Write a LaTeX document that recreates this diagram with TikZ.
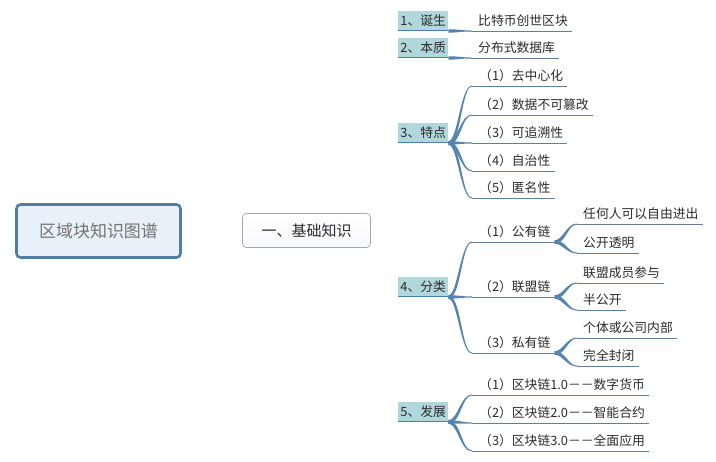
\documentclass[tikz,border=0pt]{standalone}
\usepackage{fontspec}
\newfontfamily\cjk{Noto Sans CJK SC}
\usetikzlibrary{calc,backgrounds}
\definecolor{brc}{HTML}{4E7FAA}
\definecolor{subc}{HTML}{5585AE}
\definecolor{ulc}{HTML}{617F99}
\definecolor{rootb}{HTML}{4E7FA5}
\definecolor{rootf}{HTML}{E8F1FA}
\definecolor{tealf}{HTML}{B0D7DB}
\definecolor{txt}{HTML}{2B2B2B}
\tikzset{
  rootbox/.style={draw=rootb, line width=2.6pt, rounded corners=4pt, fill=rootf,
    minimum width=164pt, minimum height=53pt, inner sep=0pt,
    font=\cjk\fontsize{17}{20}\selectfont, text=black!55},
  r2box/.style={draw=black!35, line width=0.7pt, rounded corners=4pt,
    top color=white, bottom color=black!4!blue!3,
    minimum width=128pt, minimum height=34pt, inner sep=0pt,
    font=\cjk\fontsize{15}{18}\selectfont, text=txt},
  l2box/.style={fill=tealf, anchor=south west, minimum width=50pt, minimum height=20pt,
    inner sep=0pt, font=\cjk\fontsize{12.8}{15}\selectfont, text=txt},
  leaf/.style={anchor=south west, inner sep=0pt, text height=10pt, text depth=5pt,
    font=\cjk\fontsize{12.8}{15}\selectfont, text=txt},
  uline/.style={draw=ulc, line width=0.9pt},
  l2line/.style={draw=brc, line width=1pt},
  conn/.style={draw=brc!85, line width=1.1pt}
}
% main tapered branch from #1 to #2
\newcommand\mainbr[2]{%
 \fill[brc] let \p0=(#1), \p3=(#2), \n0={(\y3>\y0)?1:-1} in
 (\x0, \y0+\n0*2.3pt)
 .. controls (\x0+5pt, \y0+\n0*2.3pt) and (\x0+7.7pt, \y0+\n0*5pt) .. (\x0+7.7pt, \y0+\n0*11pt)
 -- (\x0+8.9pt, \y3-\n0*16pt)
 .. controls (\x0+8.9pt, \y3-\n0*5pt) and (\x3-9pt, \y3+\n0*0.6pt) .. (\x3, \y3+\n0*0.6pt)
 -- (\x3, \y3-\n0*0.6pt)
 .. controls (\x3-9pt, \y3-\n0*0.6pt) and (\x0+11.1pt, \y3-\n0*7pt) .. (\x0+11.1pt, \y3-\n0*16pt)
 -- (\x0+12.3pt, \y0+\n0*11pt)
 .. controls (\x0+12.3pt, \y0+\n0*4pt) and (\x0+8pt, \y0-\n0*2.3pt) .. (\x0, \y0-\n0*2.3pt) -- cycle;}
% sub tapered branch from #1 to #2, control distances #3 #4
\newcommand\subbr[4]{%
 \fill[subc] let \p0=#1, \p3=#2, \n0={(\y3>\y0)?1:-1} in
 (\x0, \y0+\n0*1.7pt)
 .. controls (\x0+#3pt-1.7pt, \y0+\n0*1.7pt) and (\x3-#4pt-0.5pt, \y3+\n0*0.5pt) .. (\x3, \y3+\n0*0.5pt)
 -- (\x3, \y3-\n0*0.5pt)
 .. controls (\x3-#4pt+0.5pt, \y3-\n0*0.5pt) and (\x0+#3pt+1.7pt, \y0-\n0*1.7pt) .. (\x0, \y0-\n0*1.7pt) -- cycle;}
\newcommand\uln[1]{\draw[uline] ($(#1.south west)+(-7,0)$) -- ($(#1.south east)+(4,0)$);}
\newcommand\ulf[1]{\draw[uline] ($(#1.south west)+(-6,0)$) -- ($(#1.south east)+(4,0)$);}
\begin{document}
\begin{tikzpicture}[x=1pt,y=-1pt]
\useasboundingbox[fill=white] (0,0) rectangle (716,462);

% roots
\node[rootbox] (root) at (98.5,231) {区域块知识图谱};
\node[r2box] (r2) at (306.5,230.5) {一、基础知识};

% level 2
\node[l2box] (n1) at (398,31) {1、诞生};
\node[l2box] (n2) at (398,58) {2、本质};
\node[l2box] (n3) at (398,143) {3、特点};
\node[l2box] (n4) at (398,297) {4、分类};
\node[l2box] (n5) at (398,422) {5、发展};

% leaves level 3
\node[leaf] (l11) at (478,31) {比特币创世区块};
\node[leaf] (l21) at (478,58) {分布式数据库};
\node[leaf] (l31) at (479,86) {（1）去中心化};
\node[leaf] (l32) at (479,115) {（2）数据不可篡改};
\node[leaf] (l33) at (479,143) {（3）可追溯性};
\node[leaf] (l34) at (479,171) {（4）自治性};
\node[leaf] (l35) at (479,198) {（5）匿名性};
\node[leaf] (l41) at (479,242) {（1）公有链};
\node[leaf] (l42) at (479,297) {（2）联盟链};
\node[leaf] (l43) at (479,353) {（3）私有链};
\node[leaf] (l51) at (479,395) {（1）区块链1.0－－数字货币};
\node[leaf] (l52) at (479,423) {（2）区块链2.0－－智能合约};
\node[leaf] (l53) at (479,451) {（3）区块链3.0－－全面应用};

% leaves level 4
\node[leaf] (l411) at (583,224) {任何人可以自由进出};
\node[leaf] (l412) at (583,253) {公开透明};
\node[leaf] (l421) at (583,283) {联盟成员参与};
\node[leaf] (l422) at (583,310) {半公开};
\node[leaf] (l431) at (583,338) {个体或公司内部};
\node[leaf] (l432) at (583,366) {完全封闭};

\begin{pgfonlayer}{background}
\draw[conn] (root.east) -- (r2.west);
\mainbr{r2.east}{n1.south west}
\mainbr{r2.east}{n2.south west}
\mainbr{r2.east}{n3.south west}
\mainbr{r2.east}{n4.south west}
\mainbr{r2.east}{n5.south west}
\end{pgfonlayer}

\foreach \n in {n1,n2,n3,n4,n5} {\draw[l2line] (\n.south west) -- (\n.south east);}

\subbr{(n1.south east)}{($(l11.south west)+(-7,0)$)}{10}{10}
\subbr{(n2.south east)}{($(l21.south west)+(-7,0)$)}{10}{10}
\foreach \c in {l31,l32,l33,l34,l35} {\subbr{(n3.south east)}{($(\c.south west)+(-7,0)$)}{11}{11}}
\foreach \c in {l41,l42,l43} {\subbr{(n4.south east)}{($(\c.south west)+(-7,0)$)}{11}{11}}
\foreach \c in {l51,l52,l53} {\subbr{(n5.south east)}{($(\c.south west)+(-7,0)$)}{11}{11}}
\subbr{($(l41.south east)+(4,0)$)}{($(l411.south west)+(-6,0)$)}{10}{10}
\subbr{($(l41.south east)+(4,0)$)}{($(l412.south west)+(-6,0)$)}{10}{10}
\subbr{($(l42.south east)+(4,0)$)}{($(l421.south west)+(-6,0)$)}{10}{10}
\subbr{($(l42.south east)+(4,0)$)}{($(l422.south west)+(-6,0)$)}{10}{10}
\subbr{($(l43.south east)+(4,0)$)}{($(l431.south west)+(-6,0)$)}{10}{10}
\subbr{($(l43.south east)+(4,0)$)}{($(l432.south west)+(-6,0)$)}{10}{10}

\foreach \c in {l11,l21,l31,l32,l33,l34,l35,l41,l42,l43,l51,l52,l53} {\uln{\c}}
\foreach \c in {l411,l412,l421,l422,l431,l432} {\ulf{\c}}
\end{tikzpicture}
\end{document}
